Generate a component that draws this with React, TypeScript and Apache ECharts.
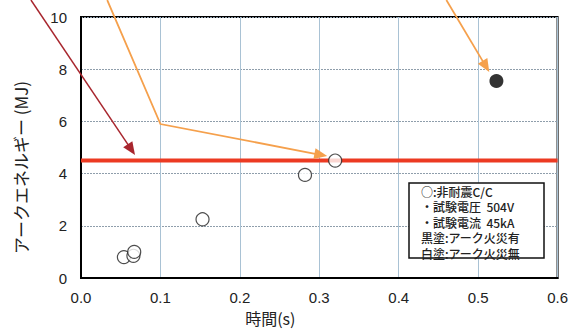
import React, { useEffect, useRef } from "react";
import * as echarts from "echarts";

// ---- data ----
const xMin = 0;
const xMax = 0.6;
const xInterval = 0.1;
const yMin = 0;
const yMax = 10;
const yInterval = 2;

const openPoints: [number, number][] = [
  [0.054, 0.8],
  [0.066, 0.85],
  [0.067, 1.0],
  [0.153, 2.25],
  [0.282, 3.95],
  [0.32, 4.5],
];
const filledPoints: [number, number][] = [[0.523, 7.55]];
const thresholdEnergy = 4.5;

// annotation arrows (data coordinates, tip last)
const redArrowPath: [number, number][] = [
  [-0.063, 10.65],
  [0.068, 4.71],
];
const orangeArrowPath1: [number, number][] = [
  [0.033, 10.65],
  [0.1, 5.9],
  [0.31, 4.67],
];
const orangeArrowPath2: [number, number][] = [
  [0.46, 10.65],
  [0.514, 7.89],
];

const legendLines = [
  "○:非耐震C/C",
  "・試験電圧  504V",
  "・試験電流  45kA",
  "黒塗:アーク火災有",
  "白塗:アーク火災無",
];

const xAxisName = "時間(s)";
const yAxisName = "アークエネルギー (MJ)";

function arrowGraphics(
  chart: echarts.ECharts,
  path: [number, number][],
  color: string,
  width: number
) {
  const pts = path.map((p) => chart.convertToPixel({ gridIndex: 0 }, p) as number[]);
  const n = pts.length;
  const tip = pts[n - 1];
  const prev = pts[n - 2];
  const dx = tip[0] - prev[0];
  const dy = tip[1] - prev[1];
  const d = Math.sqrt(dx * dx + dy * dy);
  const ux = dx / d;
  const uy = dy / d;
  const len = 13;
  const half = 5.5;
  const base = [tip[0] - ux * len, tip[1] - uy * len];
  const lineBase = [tip[0] - ux * (len - 2), tip[1] - uy * (len - 2)];
  const linePts = pts.slice(0, n - 1).concat([lineBase]);
  return [
    {
      type: "polyline",
      z: 100,
      silent: true,
      shape: { points: linePts },
      style: { stroke: color, lineWidth: width, fill: null },
    },
    {
      type: "polygon",
      z: 100,
      silent: true,
      shape: {
        points: [
          tip,
          [base[0] - uy * half, base[1] + ux * half],
          [base[0] + uy * half, base[1] - ux * half],
        ],
      },
      style: { fill: color, stroke: null },
    },
  ];
}

export default function App() {
  const ref = useRef<HTMLDivElement>(null);

  useEffect(() => {
    if (!ref.current) return;
    document.body.style.margin = "0";
    const chart = echarts.init(ref.current, undefined, { renderer: "svg" });
    const axisLabelStyle = {
      color: "#222",
      fontSize: 15,
      fontFamily: "Liberation Sans, Arial, sans-serif",
    };
    chart.setOption({
      animation: false,
      backgroundColor: "#fff",
      grid: {
        left: 81,
        right: 13,
        top: 17,
        bottom: 55,
        show: true,
        borderColor: "#000",
        borderWidth: 2,
        backgroundColor: "transparent",
        containLabel: false,
      },
      xAxis: {
        type: "value",
        min: xMin,
        max: xMax,
        interval: xInterval,
        name: xAxisName,
        nameLocation: "middle",
        nameGap: 32,
        nameTextStyle: {
          color: "#222",
          fontSize: 16,
          fontFamily: "Noto Sans CJK JP, sans-serif",
          padding: [0, 98, 0, 0],
        },
        axisLine: { show: true, lineStyle: { color: "#000", width: 2 } },
        axisTick: { show: false },
        axisLabel: {
          ...axisLabelStyle,
          margin: 12,
          formatter: (v: number) => v.toFixed(1),
        },
        splitLine: { show: true, lineStyle: { color: "#a9c2d4", width: 1 } },
      },
      yAxis: {
        type: "value",
        min: yMin,
        max: yMax,
        interval: yInterval,
        name: yAxisName,
        nameLocation: "middle",
        nameRotate: 90,
        nameGap: 52,
        nameTextStyle: {
          color: "#222",
          fontSize: 17,
          fontFamily: "Noto Sans CJK JP, sans-serif",
          padding: [0, 40, 0, 0],
        },
        axisLine: { show: true, lineStyle: { color: "#000", width: 2 } },
        axisTick: { show: false },
        axisLabel: { ...axisLabelStyle, margin: 14 },
        splitLine: {
          show: true,
          lineStyle: { color: "#8f9eab", width: 1, type: [2, 1] },
        },
      },
      series: [
        {
          type: "line",
          data: [
            [xMin, thresholdEnergy],
            [xMax, thresholdEnergy],
          ],
          showSymbol: false,
          silent: true,
          lineStyle: { color: "#ec3a22", width: 4 },
          z: 3,
        },
        {
          type: "scatter",
          data: openPoints,
          symbol: "circle",
          symbolSize: 13,
          itemStyle: { color: "#fff", borderColor: "#222", borderWidth: 1.2 },
          z: 4,
        },
        {
          type: "scatter",
          data: filledPoints,
          symbol: "circle",
          symbolSize: 14,
          itemStyle: { color: "#000" },
          z: 4,
        },
      ],
    });

    const legendBox = {
      type: "group",
      z: 110,
      children: [
        {
          type: "rect",
          shape: { x: 409, y: 183, width: 135, height: 75 },
          style: { fill: "#fff", stroke: "#111", lineWidth: 1.5 },
        },
        ...legendLines.map((t, i) => ({
          type: "text",
          x: 421,
          y: 191 + i * 15.5,
          style: {
            text: t,
            fill: "#222",
            fontSize: 12,
            fontWeight: 500,
            fontFamily: "Noto Sans CJK JP, sans-serif",
            verticalAlign: "middle",
            textAlign: "left",
          },
        })),
      ],
    };

    chart.setOption({
      graphic: [
        ...arrowGraphics(chart, redArrowPath, "#a8262e", 1.5),
        ...arrowGraphics(chart, orangeArrowPath1, "#f5a04c", 1.8),
        ...arrowGraphics(chart, orangeArrowPath2, "#f5a04c", 1.8),
        legendBox,
      ],
    });

    return () => chart.dispose();
  }, []);

  return (
    <div
      ref={ref}
      style={{ position: "absolute", left: 0, top: 0, width: 571, height: 333 }}
    />
  );
}
